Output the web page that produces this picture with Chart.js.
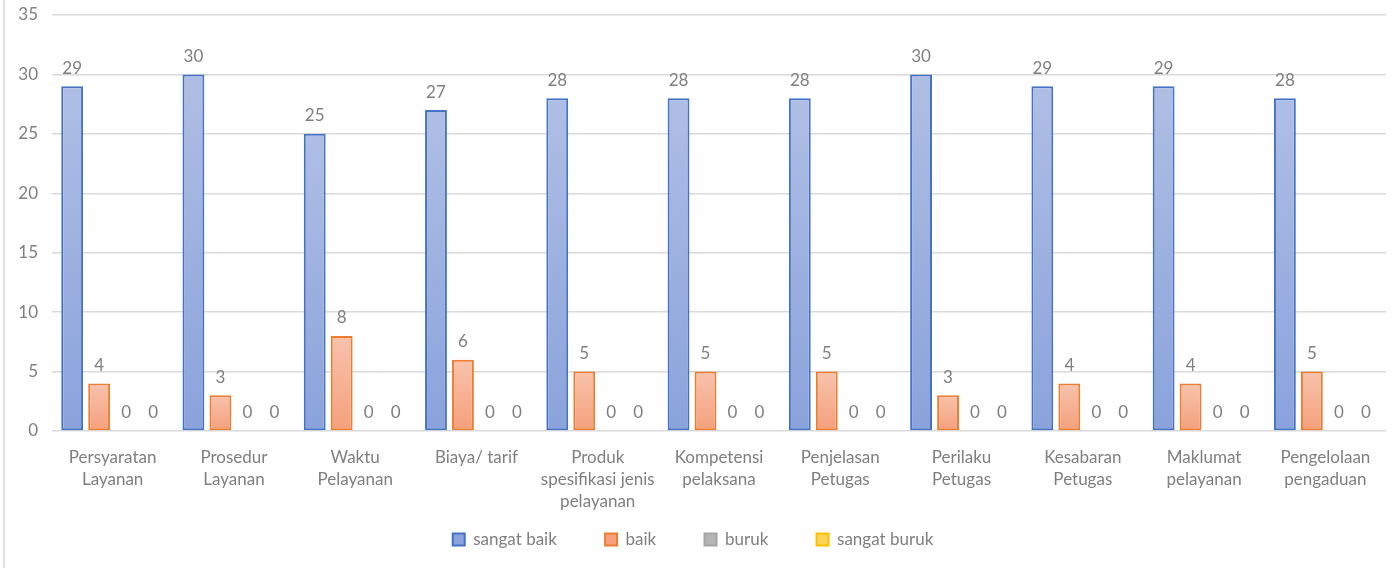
<!DOCTYPE html>
<html>
<head>
<meta charset="utf-8">
<script src="https://cdn.jsdelivr.net/npm/chart.js@4.4.1/dist/chart.umd.min.js"></script>
<style>
  html, body { margin: 0; padding: 0; background: #fff; }
  #wrap { width: 1399px; height: 568px; position: relative; }
</style>
</head>
<body>
<div id="wrap"><canvas id="chart"></canvas></div>
<script>
// categories (multi-line labels)
const categories = [
    ['Persyaratan', 'Layanan'],
    ['Prosedur', 'Layanan'],
    ['Waktu', 'Pelayanan'],
    ['Biaya/ tarif'],
    ['Produk', 'spesifikasi jenis', 'pelayanan'],
    ['Kompetensi', 'pelaksana'],
    ['Penjelasan', 'Petugas'],
    ['Perilaku', 'Petugas'],
    ['Kesabaran', 'Petugas'],
    ['Maklumat', 'pelayanan'],
    ['Pengelolaan', 'pengaduan']
];
const sangatBaik = [29, 30, 25, 27, 28, 28, 28, 30, 29, 29, 28];
const baik = [4, 3, 8, 6, 5, 5, 5, 3, 4, 4, 5];
const buruk = [0, 0, 0, 0, 0, 0, 0, 0, 0, 0, 0];
const sangatBuruk = [0, 0, 0, 0, 0, 0, 0, 0, 0, 0, 0];

const seriesNames = ['sangat baik', 'baik', 'buruk', 'sangat buruk'];
const borderColors = ['#4472c4', '#ed7d31', '#a5a5a5', '#ffc000'];
const topColors = ['#afbee4', '#f8c3ac', '#cfcfcf', '#ffe08a'];
const bottomColors = ['#8aa3dc', '#f4a07c', '#b5b5b5', '#ffd355'];

const textGray = '#7f7f7f';
const FONT = 'Lato, "Open Sans", sans-serif';
const FSIZE = 17;

// paint each bar with its own vertical gradient
const barGradient = {
    id: 'barGradient',
    beforeDatasetDraw(chart, args) {
        const c = chart.ctx;
        const i = args.index;
        args.meta.data.forEach(bar => {
            let top = Math.min(bar.y, bar.base), bot = Math.max(bar.y, bar.base);
            if (bot - top < 1) return;
            let g = c.createLinearGradient(0, top, 0, bot);
            g.addColorStop(0, topColors[i]);
            g.addColorStop(1, bottomColors[i]);
            bar.options = Object.assign({}, bar.options, { backgroundColor: g });
        });
    }
};

// value labels above bars
const valueLabels = {
    id: 'valueLabels',
    afterDatasetsDraw(chart) {
        const c = chart.ctx;
        c.save();
        c.font = FSIZE + 'px ' + FONT;
        c.fillStyle = textGray;
        c.textAlign = 'center';
        c.textBaseline = 'middle';
        chart.data.datasets.forEach((ds, i) => {
            chart.getDatasetMeta(i).data.forEach((bar, j) => {
                c.fillText(String(ds.data[j]), bar.x, bar.y - 18);
            });
        });
        c.restore();
    }
};

// thin frame line on the left
const leftFrame = {
    id: 'leftFrame',
    beforeDraw(chart) {
        const c = chart.ctx;
        c.save();
        c.strokeStyle = '#d9d9d9';
        c.lineWidth = 1.5;
        c.beginPath();
        c.moveTo(4, 0);
        c.lineTo(4, chart.height);
        c.stroke();
        c.restore();
    }
};

const datasets = [sangatBaik, baik, buruk, sangatBuruk].map((d, i) => ({
    label: seriesNames[i],
    data: d,
    backgroundColor: bottomColors[i],
    borderColor: borderColors[i],
    borderWidth: 2,
    borderSkipped: false,
    categoryPercentage: 0.89,
    barPercentage: 0.81
}));

new Chart(document.getElementById('chart'), {
    type: 'bar',
    data: { labels: categories, datasets: datasets },
    plugins: [leftFrame, barGradient, valueLabels],
    options: {
        responsive: true,
        maintainAspectRatio: false,
        animation: false,
        layout: { padding: { top: 15, right: 13, bottom: 10, left: 0 } },
        scales: {
            y: {
                min: 0,
                max: 35,
                ticks: { stepSize: 5, padding: 14, color: textGray, font: { family: FONT, size: FSIZE } },
                grid: { color: '#d9d9d9', lineWidth: 1.5, drawTicks: false },
                border: { display: false },
                afterFit(scale) {
                    scale.width = 52;
                    scale.paddingTop = 0;
                    scale.paddingBottom = 0;
                }
            },
            x: {
                ticks: {
                    maxRotation: 0, autoSkip: false, padding: 15,
                    color: textGray, font: { family: FONT, size: FSIZE, lineHeight: 1.3 }
                },
                grid: { display: false, drawTicks: false },
                border: { display: false },
                afterFit(scale) { scale.height = 90; }
            }
        },
        plugins: {
            legend: {
                position: 'bottom',
                labels: {
                    boxWidth: 12, boxHeight: 12, padding: 10,
                    color: textGray, font: { family: FONT, size: FSIZE },
                    generateLabels(chart) {
                        const items = Chart.defaults.plugins.legend.labels.generateLabels(chart);
                        items.forEach((it, k) => {
                            if (k < items.length - 1) it.text += '\u2003\u2003\u2003';
                        });
                        return items;
                    }
                }
            },
            tooltip: { enabled: false }
        }
    }
});
</script>
</body>
</html>
